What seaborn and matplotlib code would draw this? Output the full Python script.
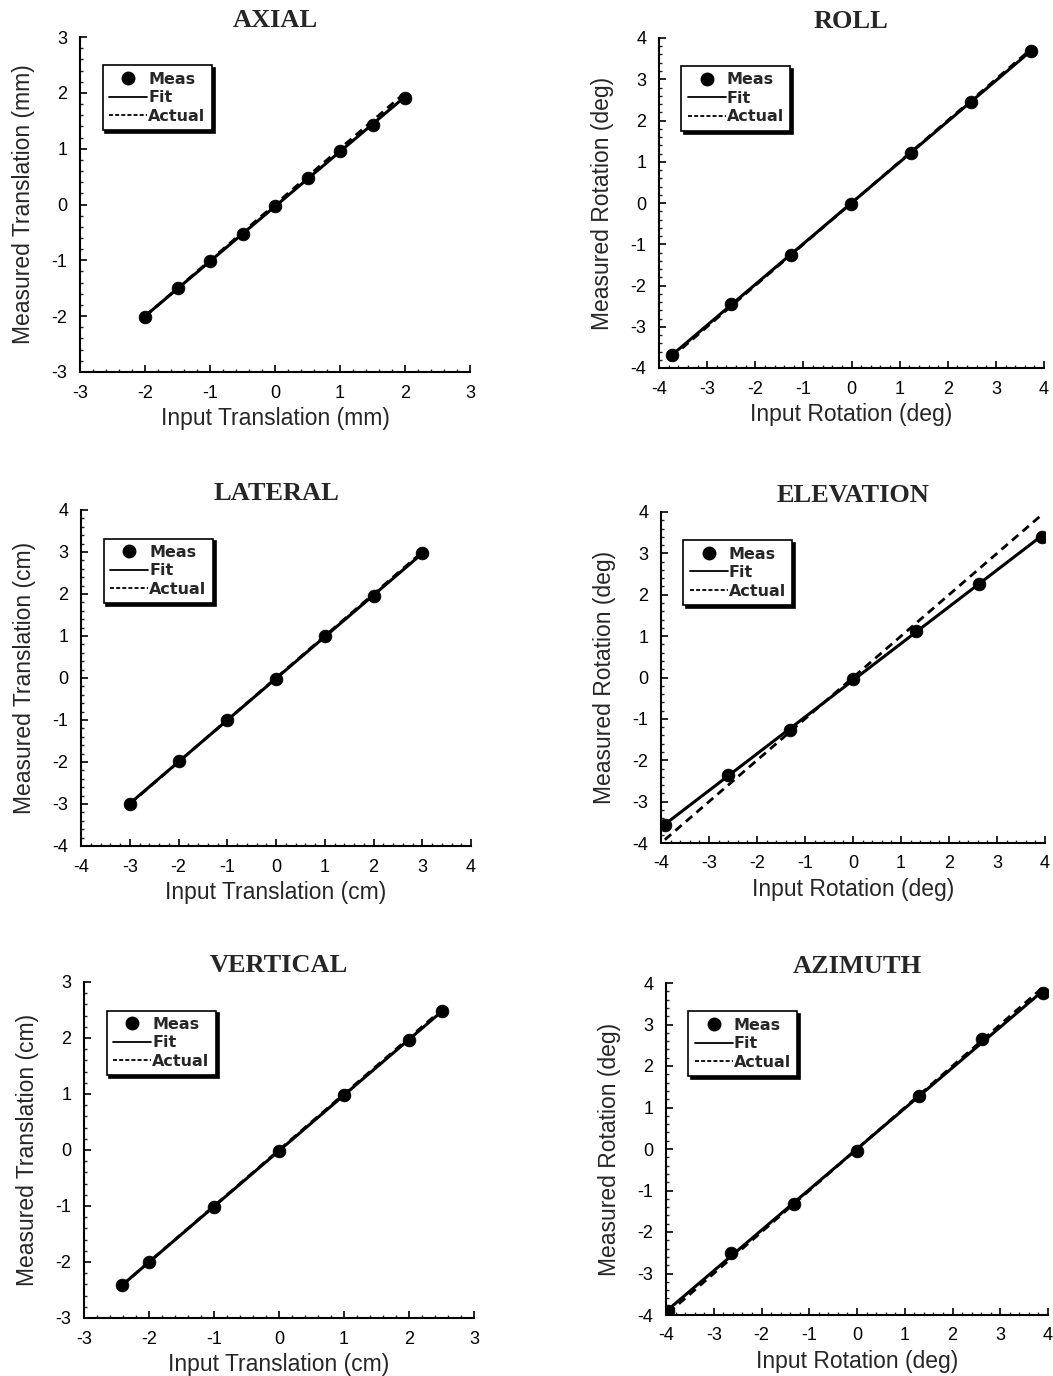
import numpy as np
import matplotlib
matplotlib.use("Agg")
import matplotlib.pyplot as plt
from matplotlib.lines import Line2D
from matplotlib.ticker import MultipleLocator
import seaborn as sns

# --- data ---
axial_in = [-2, -1.5, -1, -0.5, 0, 0.5, 1, 1.5, 2]
axial_meas = [-2.02, -1.5, -1.02, -0.53, -0.02, 0.48, 0.96, 1.43, 1.91]

lateral_in = [-3, -2, -1, 0, 1, 2, 3]
lateral_meas = [-3.0, -1.98, -1.0, -0.02, 0.99, 1.96, 2.97]

vertical_in = [-2.42, -2, -1, 0, 1, 2, 2.5]
vertical_meas = [-2.41, -2.0, -1.02, -0.02, 0.98, 1.97, 2.48]

roll_in = [-3.74, -2.5, -1.26, -0.02, 1.23, 2.48, 3.72]
roll_meas = [-3.69, -2.45, -1.27, -0.02, 1.21, 2.45, 3.69]

elev_in = [-3.92, -2.6, -1.31, 0.0, 1.32, 2.62, 3.94]
elev_meas = [-3.57, -2.36, -1.26, -0.03, 1.12, 2.27, 3.40]
elev_actual_x = [-3.92, 3.9]

azim_in = [-3.95, -2.64, -1.32, -0.01, 1.29, 2.62, 3.9]
azim_meas = [-3.90, -2.51, -1.33, -0.04, 1.27, 2.65, 3.76]

sns.set_style("ticks")
plt.rcParams["font.family"] = ["Liberation Sans", "DejaVu Sans"]
plt.rcParams["axes.unicode_minus"] = False

W, H = 1053, 1376
fig = plt.figure(figsize=(W / 100, H / 100), dpi=100)

panels = [
    # title, x, y, actual x-range, lim, axes px box (l, t, r, b), xlabel, ylabel
    ("AXIAL", axial_in, axial_meas, axial_in, 3, (80, 37, 470, 372),
     "Input Translation (mm)", "Measured Translation (mm)"),
    ("ROLL", roll_in, roll_meas, roll_in, 4, (659, 38, 1044, 368),
     "Input Rotation (deg)", "Measured Rotation (deg)"),
    ("LATERAL", lateral_in, lateral_meas, lateral_in, 4, (81, 510, 471, 846),
     "Input Translation (cm)", "Measured Translation (cm)"),
    ("ELEVATION", elev_in, elev_meas, elev_actual_x, 4, (661, 512, 1045, 843),
     "Input Rotation (deg)", "Measured Rotation (deg)"),
    ("VERTICAL", vertical_in, vertical_meas, vertical_in, 3, (84, 982, 474, 1318),
     "Input Translation (cm)", "Measured Translation (cm)"),
    ("AZIMUTH", azim_in, azim_meas, azim_in, 4, (666, 983, 1048, 1315),
     "Input Rotation (deg)", "Measured Rotation (deg)"),
]

handles = [
    Line2D([], [], color="black", marker="o", linestyle="none", markersize=9),
    Line2D([], [], color="black", lw=1.3),
    Line2D([], [], color="black", lw=1.3, linestyle=(0, (2.2, 1.2))),
]

for title, x, y, act, lim, (l, t, r, b), xl, yl in panels:
    ax = fig.add_axes([l / W, 1 - b / H, (r - l) / W, (b - t) / H])

    sns.regplot(x=x, y=y, ax=ax, scatter=False, ci=None, truncate=True,
                line_kws=dict(color="black", lw=2.2))
    sns.lineplot(x=act, y=act, ax=ax, color="black", lw=2.0,
                 linestyle=(0, (3, 2)))
    sns.scatterplot(x=x, y=y, ax=ax, color="black", s=85, edgecolor="black",
                    linewidth=0.5, zorder=5)

    ax.set_xlim(-lim, lim)
    ax.set_ylim(-lim, lim)
    ax.xaxis.set_major_locator(MultipleLocator(1))
    ax.yaxis.set_major_locator(MultipleLocator(1))
    ax.xaxis.set_minor_locator(MultipleLocator(0.2))
    ax.yaxis.set_minor_locator(MultipleLocator(0.2))
    ax.tick_params(which="major", direction="in", length=5, width=1.2,
                   labelsize=13, pad=9, colors="black")
    ax.tick_params(which="minor", direction="in", length=2.5, width=1.0)
    sns.despine(ax=ax)
    for s in ("left", "bottom"):
        ax.spines[s].set_linewidth(1.5)
        ax.spines[s].set_color("black")

    ax.set_xlabel(xl, fontsize=16.5, labelpad=4)
    ax.set_ylabel(yl, fontsize=16.5, labelpad=12)
    ax.set_title(title, fontsize=19, family=["Liberation Serif"],
                 weight="bold", pad=7)

    leg = ax.legend(handles, ["Meas", "Fit", "Actual"],
                    loc="upper left", bbox_to_anchor=(0.058, 0.915),
                    frameon=True, fancybox=False,
                    shadow={"color": "black", "alpha": 1},
                    handlelength=2.4, handletextpad=0.05, labelspacing=0.22,
                    borderpad=0.4, borderaxespad=0,
                    prop=dict(family="DejaVu Sans", weight="bold", size=11.5))
    leg.get_frame().set_edgecolor("black")
    leg.get_frame().set_linewidth(1.2)

fig.savefig("out.png", dpi=100, facecolor="white")
